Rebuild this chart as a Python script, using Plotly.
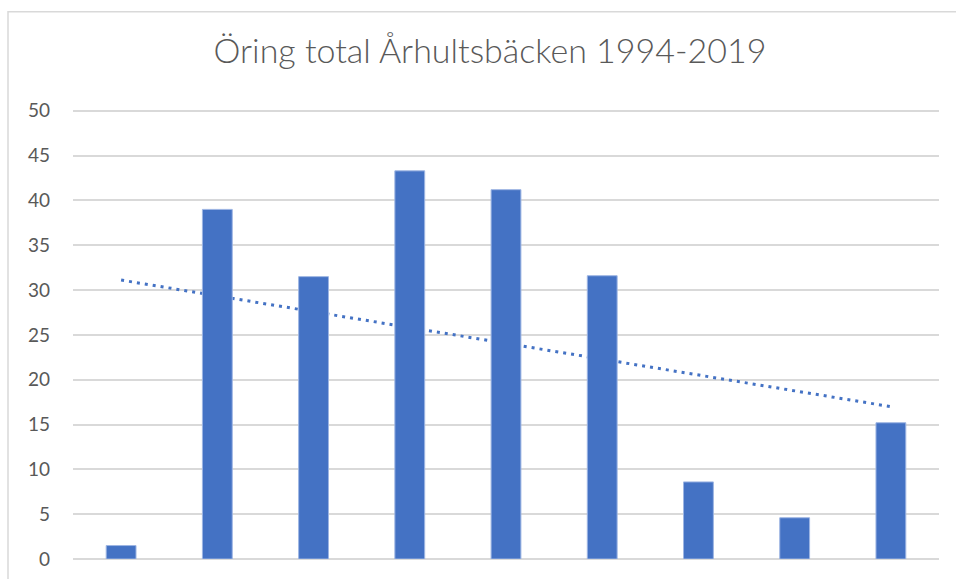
import numpy as np
import plotly.graph_objects as go

categories = ["1", "2", "3", "4", "5", "6", "7", "8", "9"]
values = [1.5, 39.0, 31.5, 43.3, 41.2, 31.6, 8.6, 4.6, 15.2]
y_ticks = [0, 5, 10, 15, 20, 25, 30, 35, 40, 45, 50]
title_text = "Öring total Århultsbäcken 1994-2019"

# linear trend line (least squares) computed from the data
idx = np.arange(len(values))
slope, intercept = np.polyfit(idx, values, 1)
trend = (slope * idx + intercept).tolist()

W, H = 956, 579
Y_TOP = 50.2
L, R, B = 73, 17, 20
ph = 448 * Y_TOP / 50
T = H - B - ph
pw = W - L - R

fig = go.Figure()
# trend line on main axes (drawn below the overlay axes holding bars)
fig.add_trace(go.Scatter(
    x=categories, y=trend, mode="lines",
    line=dict(color="#4472C4", width=3, dash="3px,5px"),
    hoverinfo="skip", showlegend=False, xaxis="x", yaxis="y"))
fig.add_trace(go.Bar(
    x=categories, y=values, width=0.31,
    marker=dict(color="#4472C4", line=dict(color="#9db5e3", width=1)),
    showlegend=False, xaxis="x2", yaxis="y2"))

axis_font = dict(family="Lato, sans-serif", size=19, color="#595959")
fig.update_layout(
    width=W, height=H,
    margin=dict(l=L, r=R, t=T, b=B, autoexpand=False),
    paper_bgcolor="white", plot_bgcolor="white",
    title=dict(text=title_text, x=490 / W, xanchor="center", xref="container",
               y=1 - 51 / H, yanchor="middle", yref="container",
               font=dict(family="Lato, sans-serif", size=34, color="#595959", weight=300)),
    xaxis=dict(type="category", range=[-0.5, 8.5], showticklabels=False, automargin=False,
               showgrid=False, zeroline=False, showline=False, ticks=""),
    yaxis=dict(range=[0, Y_TOP], tickvals=y_ticks, showgrid=True, gridcolor="#d9d9d9",
               gridwidth=1.5, zeroline=True, zerolinecolor="#d9d9d9", zerolinewidth=1.5,
               showline=False, ticks="", tickfont=axis_font, ticklabelstandoff=22,
               automargin=False),
    xaxis2=dict(type="category", range=[-0.5, 8.5], overlaying="x", showticklabels=False,
                showgrid=False, zeroline=False, showline=False, ticks="", automargin=False),
    yaxis2=dict(range=[0, Y_TOP], overlaying="y", showticklabels=False, showgrid=False,
                zeroline=False, showline=False, ticks="", automargin=False),
    shapes=[dict(type="rect", xref="paper", yref="paper",
                 x0=(8 - L) / pw, x1=(W + 20 - L) / pw,
                 y0=-(B + 20) / ph, y1=(ph + T - 12) / ph,
                 line=dict(color="#d9d9d9", width=1.5), fillcolor="rgba(0,0,0,0)",
                 layer="below")],
)

fig.write_html("out.html", config={"displayModeBar": False},
               post_script="document.body.style.margin='0';document.body.style.padding='0';")
